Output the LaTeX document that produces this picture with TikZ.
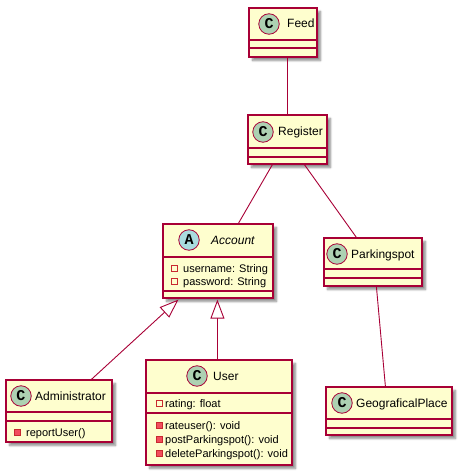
\documentclass[tikz,border=0pt]{standalone}
\usepackage{fontspec}
\setmainfont{Liberation Sans}
\newfontfamily\badgefont{Liberation Mono}
\usetikzlibrary{arrows.meta,calc,shadows.blur}

\definecolor{umlborder}{HTML}{A80036}
\definecolor{umlfill}{HTML}{FEFECE}
\definecolor{cbadgefill}{HTML}{ADD1B2}
\definecolor{abadgefill}{HTML}{A9DCDF}
\definecolor{privline}{HTML}{C82930}
\definecolor{privfill}{HTML}{F24D5C}

\tikzset{
  classbox/.style={draw=umlborder, line width=1.2pt, fill=umlfill, inner sep=0pt,
    blur shadow={shadow xshift=3.5pt, shadow yshift=-3.5pt, shadow blur steps=6, shadow opacity=45}},
  sepline/.style={draw=umlborder, line width=1.2pt},
  badge/.style={circle, draw=umlborder, line width=0.8pt, minimum size=20.5pt, inner sep=0pt,
    font=\badgefont\bfseries\fontsize{15}{15}\selectfont},
  cbadge/.style={badge, fill=cbadgefill},
  abadge/.style={badge, fill=abadgefill},
  title/.style={font=\fontsize{12}{14}\selectfont, inner sep=0pt, anchor=base west},
  member/.style={font=\fontsize{11}{13}\selectfont, inner sep=0pt, anchor=base west},
  privfield/.style={draw=privline, line width=0.8pt, fill=none, minimum size=6pt, inner sep=0pt},
  privmethod/.style={draw=privline, line width=0.8pt, fill=privfill, minimum size=6pt, inner sep=0pt},
  assoc/.style={draw=umlborder, line width=0.9pt},
  extends/.style={draw=umlborder, line width=0.9pt,
    -{Triangle[fill=white, length=19pt, width=14pt]}},
}

% class box: name, left, top, right, bottom, first and second separator
\newcommand\umlclass[7]{%
  \node[classbox, minimum width={#4-#2}, minimum height={#5-#3}]
    (#1) at ({(#2+#4)/2},{(#3+#5)/2}) {};
  \draw[sepline] (#2,#6) -- (#4,#6);
  \draw[sepline] (#2,#7) -- (#4,#7);
}

\begin{document}
\begin{tikzpicture}[x=1pt, y=-1pt]
  \useasboundingbox (0,0) rectangle (462,473);

  % boxes
  \umlclass{feed}{249}{8}{317}{57}{40}{48}
  \umlclass{register}{248}{115}{327}{164}{148}{157}
  \umlclass{account}{163}{224}{273}{298}{257}{291}
  \umlclass{parkingspot}{324}{238}{422}{286}{269}{278}
  \umlclass{admin}{6}{380}{112}{442}{412}{421}
  \umlclass{user}{146}{360}{292}{465}{393}{413}
  \umlclass{geo}{326}{387}{452}{435}{419}{428}

  % headers
  \node[cbadge] (feedC) at (269,24) {C};
  \node[title] (feedT) at (287,28) {Feed};
  \node[cbadge] (registerC) at (263,132) {C};
  \node[title] (registerT) at (278,136) {Register};
  \node[abadge] (accountA) at (189,240) {A};
  \node[title, font=\itshape\fontsize{12}{14}\selectfont] (accountT) at (211,244) {Account};
  \node[cbadge] (parkingspotC) at (337,254) {C};
  \node[title] (parkingspotT) at (351,258) {Parkingspot};
  \node[cbadge] (adminC) at (21,396) {C};
  \node[title] (adminT) at (35,400) {Administrator};
  \node[cbadge] (userC) at (197,376) {C};
  \node[title] (userT) at (213,380) {User};
  \node[cbadge] (geoC) at (342,403) {C};
  \node[title] (geoT) at (356,407) {GeograficalPlace};

  % members
  \node[privfield] (accU) at (174,268) {};
  \node[member] (accUT) at (183,272) {username: String};
  \node[privfield] (accP) at (174,281) {};
  \node[member] (accPT) at (183,285) {password: String};

  \node[privmethod] (admR) at (17,432) {};
  \node[member] (admRT) at (26,436) {reportUser()};

  \node[privfield] (usrR) at (159,403) {};
  \node[member] (usrRT) at (165,407) {rating: float};
  \node[privmethod] (usrM1) at (159,425) {};
  \node[member] (usrM1T) at (165,429) {rateuser(): void};
  \node[privmethod] (usrM2) at (159,439) {};
  \node[member] (usrM2T) at (165,443) {postParkingspot(): void};
  \node[privmethod] (usrM3) at (159,453) {};
  \node[member] (usrM3T) at (165,457) {deleteParkingspot(): void};

  % relations
  \draw[assoc] (feed.south -| register.south) -- (register.north);
  \draw[assoc] ($(register.south west)+(25,0)$) -- ($(account.north west)+(76,0)$);
  \draw[assoc] ($(register.south west)+(57,0)$) -- ($(parkingspot.north west)+(33,0)$);
  \draw[assoc] ($(parkingspot.south west)+(53,0)$) -- ($(geo.north west)+(60,0)$);
  \draw[extends] ($(admin.north west)+(86,0)$) -- ($(account.south west)+(16,1)$);
  \draw[extends] ($(user.north west)+(72,0)$) -- ($(account.south west)+(55,1)$);
\end{tikzpicture}
\end{document}
